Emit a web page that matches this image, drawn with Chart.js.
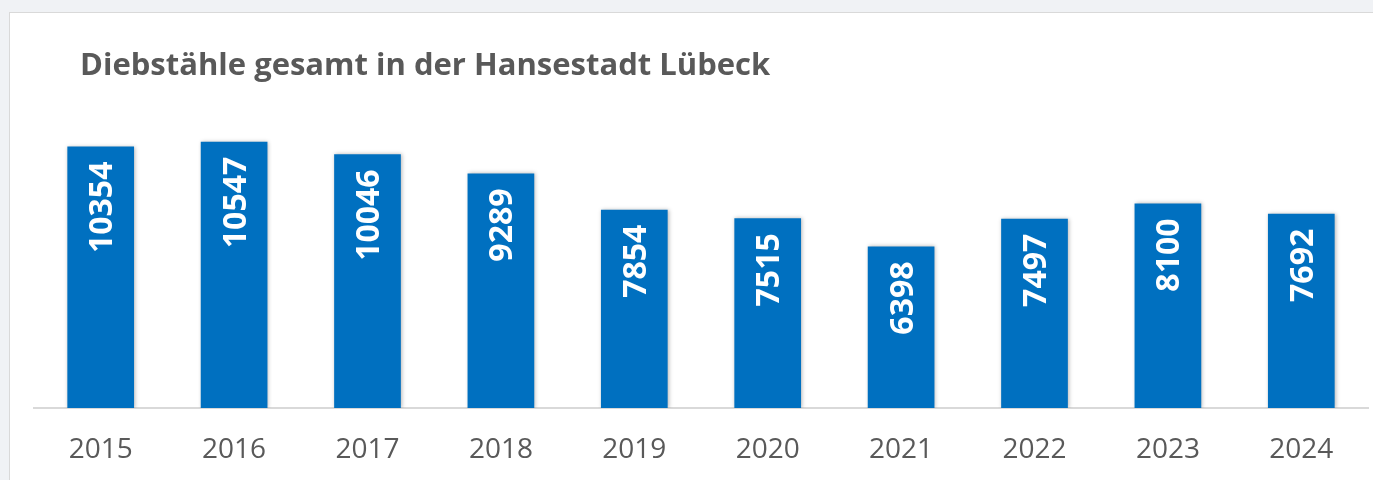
<!DOCTYPE html>
<html>
<head>
<meta charset="utf-8">
<script src="https://cdn.jsdelivr.net/npm/chart.js@4"></script>
<style>
  html, body { margin: 0; padding: 0; background: #f0f2f5; overflow: hidden; }
  #card {
    position: absolute; left: 9px; top: 12px; width: 1420px; height: 520px;
    background: #ffffff; border: 1px solid #d9d9d9;
  }
  #wrap { position: absolute; left: 0; top: 0; width: 1373px; height: 480px; }
</style>
</head>
<body>
<div id="card"></div>
<div id="wrap"><canvas id="barChart"></canvas></div>
<script>
const years = ["2015", "2016", "2017", "2018", "2019", "2020", "2021", "2022", "2023", "2024"];
const thefts = [10354, 10547, 10046, 9289, 7854, 7515, 6398, 7497, 8100, 7692];
const chartTitle = "Diebstähle gesamt in der Hansestadt Lübeck";

const textGray = "#595959";
const barBlue = "#0070c0";

// title drawn at a fixed spot, like the original
const titlePlugin = {
  id: "titleText",
  afterDraw(chart) {
    const ctx = chart.ctx;
    ctx.save();
    ctx.font = "bold 31px 'Open Sans'";
    ctx.fillStyle = textGray;
    ctx.textAlign = "left";
    ctx.textBaseline = "alphabetic";
    ctx.fillText(chartTitle, 80, 75);
    ctx.restore();
  }
};

// soft shadow under the bars
const shadowPlugin = {
  id: "barShadow",
  beforeDatasetsDraw(chart) {
    const ctx = chart.ctx;
    ctx.save();
    ctx.shadowColor = "rgba(0,0,0,0.28)";
    ctx.shadowBlur = 4;
    ctx.shadowOffsetX = 1;
    ctx.shadowOffsetY = 0;
  },
  afterDatasetsDraw(chart) {
    chart.ctx.restore();
  }
};

// rotated white value labels at the top inside the bars
const valuePlugin = {
  id: "valueLabels",
  afterDatasetsDraw(chart) {
    const ctx = chart.ctx;
    const meta = chart.getDatasetMeta(0);
    ctx.save();
    ctx.font = "bold 32px 'Open Sans'";
    ctx.fillStyle = "#ffffff";
    ctx.textAlign = "right";
    ctx.textBaseline = "alphabetic";
    meta.data.forEach((bar, i) => {
      ctx.save();
      ctx.translate(bar.x, bar.y + 15);
      ctx.rotate(-Math.PI / 2);
      ctx.fillText(String(thefts[i]), 0, 11.5);
      ctx.restore();
    });
    ctx.restore();
  }
};

const CHART = document.getElementById("barChart");
let barChart = new Chart(CHART, {
  type: "bar",
  data: {
    labels: years,
    datasets: [
      {
        label: "Diebstähle",
        data: thefts,
        backgroundColor: barBlue,
        borderWidth: 0,
        categoryPercentage: 1.0,
        barPercentage: 0.5
      }
    ]
  },
  options: {
    responsive: true,
    maintainAspectRatio: false,
    animation: false,
    layout: { padding: { top: 105, left: 34, right: 5, bottom: 0 } },
    plugins: {
      legend: { display: false },
      tooltip: { enabled: false },
      title: { display: false }
    },
    scales: {
      x: {
        grid: { display: false, drawTicks: false },
        border: { display: true, color: "#d9d9d9", width: 2 },
        ticks: {
          color: textGray,
          font: { family: "'Open Sans'", size: 28 },
          padding: 25,
          maxRotation: 0
        },
        afterFit(scale) { scale.height = 72; }
      },
      y: {
        display: false,
        min: 0,
        max: 12000
      }
    }
  },
  plugins: [shadowPlugin, valuePlugin, titlePlugin]
});
</script>
</body>
</html>
